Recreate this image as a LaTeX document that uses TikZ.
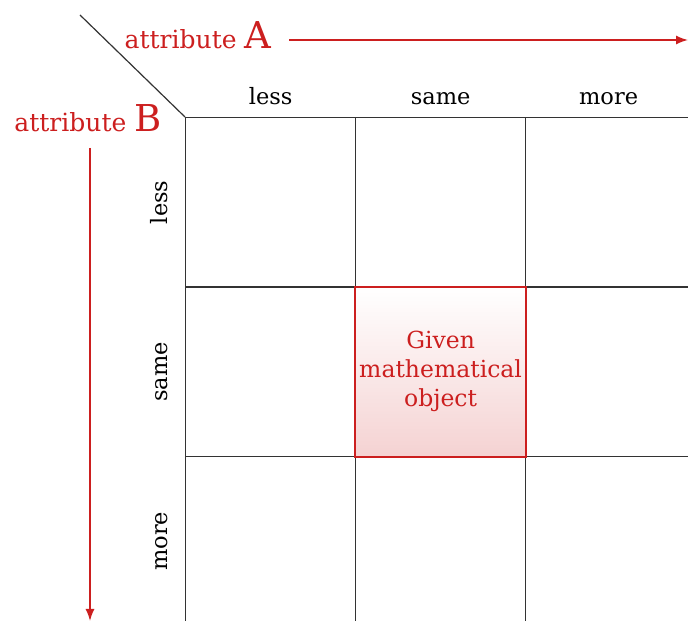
\documentclass[tikz,border=0pt]{standalone}
\usepackage{fontspec}
\setmainfont{DejaVu Serif}
\usepackage{xcolor}
\usepackage{tikz}
\usetikzlibrary{arrows.meta,positioning,calc}
\definecolor{attrred}{HTML}{CC1F1F}
\definecolor{gridgray}{HTML}{333333}

\begin{document}
\begin{tikzpicture}[
    x=1pt, y=1pt,
    cell/.style={rectangle, draw=gridgray, line width=1.2pt, minimum width=170pt, minimum height=169.5pt, inner sep=0pt, anchor=north west},
    given/.style={rectangle, top color=white, bottom color=attrred!20, text=attrred, minimum width=170pt, minimum height=169.5pt, text width=170pt, align=center, inner sep=0pt, font=\fontsize{23.5}{29}\selectfont},
    lab/.style={font=\fontsize{22.5}{27}\selectfont},
    attr/.style={text=attrred, font=\fontsize{25}{30}\selectfont},
    line/.style={draw, -{Latex[length=12pt,width=9pt]}, line width=1.5pt, color=attrred}
]
\useasboundingbox (0,0) rectangle (688,621);

% Grid
\foreach \r in {0,1,2}
  \foreach \c in {0,1,2}
    \node [cell] (c\r\c) at (185+170*\c, 504-169.5*\r) {};
\node [given] (obj) at (c11.center) {Given\\mathematical\\object};
\draw [attrred, line width=2pt] (obj.north west) rectangle (obj.south east);

% Labels
\node [lab, anchor=base] (colless) at ($(c00.north)+(0,12)$) {less};
\node [lab, anchor=base] (colsame) at ($(c01.north)+(0,12)$) {same};
\node [lab, anchor=base] (colmore) at ($(c02.north)+(-2,12)$) {more};
\node [lab, rotate=90, anchor=south] (rowless) at ($(c00.west)+(-14,0)$) {less};
\node [lab, rotate=90, anchor=south] (rowsame) at ($(c10.west)+(-14,0)$) {same};
\node [lab, rotate=90, anchor=south] (rowmore) at ($(c20.west)+(-14,0)$) {more};

\node [attr, anchor=base] (attrA) at (198,572) {attribute {\fontsize{37}{40}\selectfont A}};
\node [attr, anchor=base] (attrB) at (88,489) {attribute {\fontsize{37}{40}\selectfont B}};

\coordinate (diagend) at (80,606);
\coordinate (aend) at (688,581);
\coordinate (bstart) at (90,473);
\coordinate (bend) at (90,0);

% Connectors
\draw [gridgray, line width=1.2pt] (c00.north west) -- (diagend);
\path [line] (aend -| 289,0) -- (aend);
\path [line] (bstart) -- (bend);

\end{tikzpicture}
\end{document}
